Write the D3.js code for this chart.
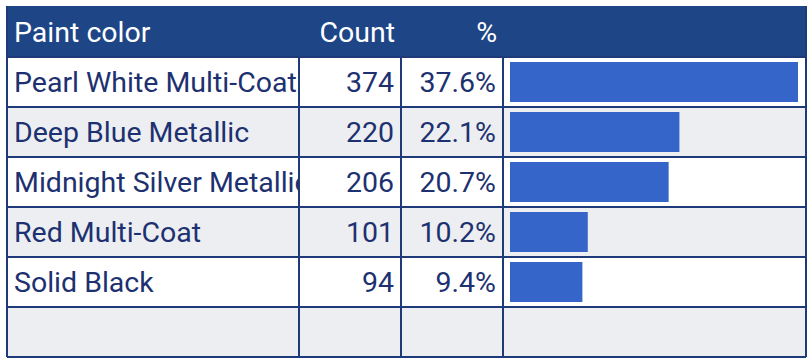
<!DOCTYPE html>
<html>
<head>
<meta charset="utf-8">
<script src="https://cdn.jsdelivr.net/npm/d3@7"></script>
<style>
  html, body { margin: 0; padding: 0; background: #fff; }
  svg { display: block; font-family: Roboto, "Noto Sans", sans-serif; }
</style>
</head>
<body>
<svg id="chart" width="812" height="364"></svg>
<script>
const headers = ["Paint color", "Count", "%"];
const colors = ["Pearl White Multi-Coat", "Deep Blue Metallic", "Midnight Silver Metallic", "Red Multi-Coat", "Solid Black"];
const counts = [374, 220, 206, 101, 94];
const percents = ["37.6%", "22.1%", "20.7%", "10.2%", "9.4%"];

const svg = d3.select("#chart");

const tLeft = 7, tRight = 806, tTop = 6, headH = 51, rowH = 50;
const colX = [tLeft, 299, 401, 503, tRight];
const navy = "#1f3a78";
const textCol = "#1d3170";
const fontSize = 28.5;
const nRows = colors.length + 1; // one empty trailing row

const y = d3.scaleBand()
  .domain(d3.range(nRows))
  .range([tTop + headH, tTop + headH + nRows * rowH]);

const x = d3.scaleLinear()
  .domain([0, d3.max(counts)])
  .range([colX[3] + 7, tRight - 8]);

// header
svg.append("rect")
  .attr("x", tLeft).attr("y", tTop)
  .attr("width", tRight - tLeft).attr("height", headH)
  .attr("fill", "#1e4686");

svg.append("g").selectAll("text")
  .data(headers)
  .join("text")
  .attr("x", (d, i) => i === 0 ? colX[0] + 7 : colX[i + 1] - 6)
  .attr("y", tTop + 36)
  .attr("text-anchor", (d, i) => i === 0 ? "start" : "end")
  .attr("fill", "#fff")
  .attr("font-size", fontSize)
  .text(d => d);

// row backgrounds
svg.append("g").selectAll("rect")
  .data(d3.range(nRows))
  .join("rect")
  .attr("x", tLeft).attr("y", d => y(d))
  .attr("width", tRight - tLeft).attr("height", rowH)
  .attr("fill", d => d % 2 === 0 ? "#fff" : "#eceef2");

// clip for first column
svg.append("clipPath").attr("id", "col0")
  .append("rect")
  .attr("x", tLeft).attr("y", tTop)
  .attr("width", colX[1] - tLeft).attr("height", headH + nRows * rowH);

const rows = svg.append("g").selectAll("g")
  .data(colors.map((c, i) => ({ c, n: counts[i], p: percents[i], i })))
  .join("g");

rows.append("text")
  .attr("clip-path", "url(#col0)")
  .attr("x", colX[0] + 7)
  .attr("y", d => y(d.i) + 35)
  .attr("fill", textCol)
  .attr("font-size", fontSize)
  .text(d => d.c);

rows.append("text")
  .attr("x", colX[2] - 7)
  .attr("y", d => y(d.i) + 35)
  .attr("text-anchor", "end")
  .attr("fill", textCol)
  .attr("font-size", fontSize)
  .text(d => d.n);

rows.append("text")
  .attr("x", colX[3] - 7)
  .attr("y", d => y(d.i) + 35)
  .attr("text-anchor", "end")
  .attr("fill", textCol)
  .attr("font-size", fontSize)
  .text(d => d.p);

rows.append("rect")
  .attr("x", x(0))
  .attr("y", d => y(d.i) + 5)
  .attr("width", d => x(d.n) - x(0))
  .attr("height", rowH - 10)
  .attr("fill", "#3565c8");

// grid lines
const tBottom = tTop + headH + nRows * rowH;
const grid = svg.append("g").attr("stroke", navy).attr("stroke-width", 2);
grid.selectAll("line.h")
  .data(d3.range(nRows + 1))
  .join("line")
  .attr("class", "h")
  .attr("x1", tLeft).attr("x2", tRight)
  .attr("y1", d => tTop + headH + d * rowH)
  .attr("y2", d => tTop + headH + d * rowH);
grid.selectAll("line.v")
  .data(colX)
  .join("line")
  .attr("class", "v")
  .attr("x1", d => d).attr("x2", d => d)
  .attr("y1", (d, i) => (i === 0 || i === colX.length - 1) ? tTop : tTop + headH)
  .attr("y2", tBottom);
</script>
</body>
</html>
